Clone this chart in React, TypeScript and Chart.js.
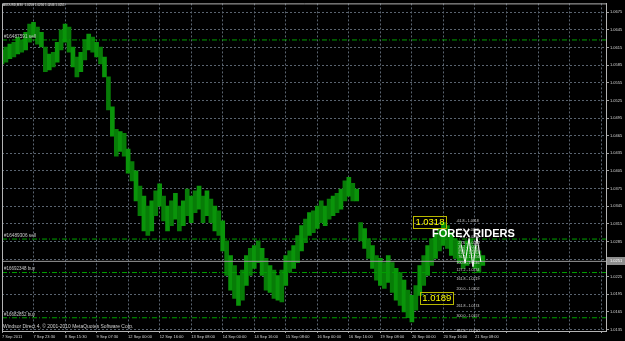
import React, { useEffect, useRef } from 'react';
import { Chart, registerables } from 'chart.js';
Chart.register(...registerables);

// ---- DATA ----
const BAR_STEP = 4; // each sample = 4 M30 bars
const HIGHS = [
  1.0611, 1.0616, 1.0621, 1.0624, 1.0633, 1.0628, 1.0641, 1.0655, 1.0658, 1.0650,
  1.0641, 1.0616, 1.0604, 1.0607, 1.0624, 1.0645, 1.0655, 1.0650, 1.0616, 1.0599,
  1.0607, 1.0628, 1.0638, 1.0633, 1.0624, 1.0616, 1.0599, 1.0565, 1.0514, 1.0476,
  1.0472, 1.0469, 1.0442, 1.0421, 1.0405, 1.0379, 1.0362, 1.0345, 1.0354, 1.0371,
  1.0383, 1.0362, 1.0345, 1.0354, 1.0367, 1.0345, 1.0354, 1.0374, 1.0362, 1.0371,
  1.0379, 1.0362, 1.0371, 1.0357, 1.0345, 1.0337, 1.0320, 1.0286, 1.0261, 1.0244,
  1.0227, 1.0236, 1.0261, 1.0273, 1.0278, 1.0286, 1.0273, 1.0256, 1.0244, 1.0236,
  1.0227, 1.0236, 1.0261, 1.0269, 1.0278, 1.0295, 1.0312, 1.0323, 1.0334, 1.0337,
  1.0345, 1.0354, 1.0345, 1.0357, 1.0362, 1.0367, 1.0374, 1.0388, 1.0394, 1.0384,
  1.0374, 1.0317, 1.0307, 1.0290, 1.0278, 1.0261, 1.0256, 1.0249, 1.0261, 1.0249,
  1.0239, 1.0232, 1.0219, 1.0202, 1.0193, 1.0210, 1.0244, 1.0261, 1.0278, 1.0290,
  1.0300, 1.0307, 1.0317, 1.0312, 1.0300, 1.0290, 1.0286, 1.0278, 1.0286, 1.0290,
  1.0278, 1.0269, 1.0261,
];
const LOWS = [
  1.0587, 1.0590, 1.0596, 1.0599, 1.0604, 1.0607, 1.0611, 1.0624, 1.0633, 1.0621,
  1.0616, 1.0574, 1.0577, 1.0582, 1.0590, 1.0611, 1.0624, 1.0607, 1.0582, 1.0565,
  1.0574, 1.0594, 1.0611, 1.0607, 1.0599, 1.0587, 1.0565, 1.0509, 1.0464, 1.0430,
  1.0438, 1.0430, 1.0401, 1.0388, 1.0354, 1.0329, 1.0303, 1.0295, 1.0303, 1.0329,
  1.0345, 1.0320, 1.0303, 1.0312, 1.0323, 1.0303, 1.0312, 1.0329, 1.0317, 1.0334,
  1.0340, 1.0317, 1.0329, 1.0317, 1.0303, 1.0295, 1.0269, 1.0227, 1.0202, 1.0188,
  1.0176, 1.0185, 1.0210, 1.0227, 1.0239, 1.0249, 1.0227, 1.0202, 1.0198, 1.0188,
  1.0185, 1.0182, 1.0210, 1.0232, 1.0239, 1.0249, 1.0269, 1.0283, 1.0295, 1.0300,
  1.0307, 1.0317, 1.0312, 1.0323, 1.0329, 1.0334, 1.0340, 1.0354, 1.0362, 1.0354,
  1.0354, 1.0286, 1.0273, 1.0256, 1.0239, 1.0219, 1.0210, 1.0205, 1.0215, 1.0198,
  1.0185, 1.0176, 1.0165, 1.0155, 1.0148, 1.0168, 1.0193, 1.0210, 1.0227, 1.0244,
  1.0256, 1.0269, 1.0278, 1.0273, 1.0261, 1.0256, 1.0249, 1.0239, 1.0244, 1.0249,
  1.0239, 1.0232, 1.0244,
];
const X_TICK_BARS = [0, 32, 64, 96, 128, 160, 192, 224, 256, 288, 320, 352, 384, 416, 448, 480, 512, 544, 576, 608];
const X_TICK_LABELS = [
  '7 Sep 2011', '7 Sep 23:30', '8 Sep 15:30', '9 Sep 07:30', '12 Sep 00:00', '12 Sep 16:00',
  '13 Sep 08:00', '14 Sep 00:00', '14 Sep 16:00', '15 Sep 08:00', '16 Sep 00:00', '16 Sep 16:00',
  '19 Sep 08:00', '20 Sep 00:00', '20 Sep 16:00', '21 Sep 08:00', '', '', '', '',
];
const Y_TICKS = [
  1.0135, 1.0165, 1.0195, 1.0225, 1.0255, 1.0285, 1.0315, 1.0345, 1.0375, 1.0405,
  1.0435, 1.0465, 1.0495, 1.0525, 1.0555, 1.0585, 1.0615, 1.0645, 1.0675,
];
const Y_HIDDEN_TICK = 1.0255;
const ORDER_PRICES = [1.0628, 1.0289, 1.0232, 1.0155];
const ORDER_LABELS = ['#16487591 sell', '#16489306 sell', '#16692348 buy', '#16682852 buy'];
const CURRENT_PRICE = 1.0251;
const HEADER = 'AUDUSD,M30  1.0256 1.0256 1.0246 1.0251';
const COPYRIGHT = 'Windsor Direct 4, \u00A9 2001-2010 MetaQuotes Software Corp.';
const SWING_PRICES = [1.0318, 1.0189];
const SWING_BARS = [417, 424];
const FIB_LEVELS = ['-61.8', '-27.2', '0.0', '23.6', '38.2', '50.0', '61.8', '76.4', '100.0', '127.2', '161.8', '200.0', '261.8', '300.0', '361.8'];
const FIB_PRICES = [1.0318, 1.0302, 1.0290, 1.0280, 1.0273, 1.0268, 1.0263, 1.0256, 1.0246, 1.0234, 1.0219, 1.0202, 1.0174, 1.0157, 1.0130];
const FIB_BAR = 463;
const FAN_BARS = [466, 470, 474, 478, 482, 486];
const FAN_PRICES = [1.0280, 1.0248, 1.0290, 1.0242, 1.0293, 1.0250];
const BRAND = 'FOREX RIDERS';

const X_MIN = 0;
const X_MAX = 613;
const Y_MIN = 1.013246;
const Y_MAX = 1.069021;

function fitFont(ctx: CanvasRenderingContext2D, text: string, width: number, family: string, weight = '') {
  ctx.font = `${weight} 20px ${family}`;
  const w = ctx.measureText(text).width || 1;
  const size = (20 * width) / w;
  ctx.font = `${weight} ${size}px ${family}`;
}

const overlay = {
  id: 'overlay',
  afterDatasetsDraw(chart: any) {
    const { ctx, chartArea: a, scales } = chart;
    const x = scales.x;
    const y = scales.y;
    ctx.save();
    ctx.strokeStyle = '#b4b4b4';
    ctx.lineWidth = 1;
    ctx.beginPath();
    ctx.moveTo(a.left + 0.5, a.bottom);
    ctx.lineTo(a.left + 0.5, a.top + 0.5);
    ctx.lineTo(a.right, a.top + 0.5);
    ctx.stroke();

    ctx.textBaseline = 'middle';
    ctx.textAlign = 'left';
    ctx.fillStyle = '#e6e6e6';
    fitFont(ctx, HEADER, 62, 'Liberation Sans');
    ctx.fillText(HEADER, 3, 5);
    fitFont(ctx, COPYRIGHT, 131, 'Liberation Sans');
    ctx.fillStyle = '#d0d0d0';
    ctx.fillText(COPYRIGHT, 3, 327);

    ctx.fillStyle = '#c8c8c8';
    ORDER_LABELS.forEach((t, i) => {
      fitFont(ctx, t, t.endsWith('sell') ? 32 : 31, 'Liberation Sans');
      ctx.fillText(t, 4, y.getPixelForValue(ORDER_PRICES[i]) - 3.5);
    });

    ctx.fillStyle = '#d4d4d4';
    FIB_LEVELS.forEach((lv, i) => {
      const t = `${lv} - ${FIB_PRICES[i].toFixed(4)}`;
      ctx.font = '3.6px Liberation Sans';
      ctx.fillText(t, x.getPixelForValue(FIB_BAR) - (lv.length - 4) * 1.8, y.getPixelForValue(FIB_PRICES[i]) - 1);
    });

    SWING_PRICES.forEach((p, i) => {
      const t = p.toFixed(4);
      const px = x.getPixelForValue(SWING_BARS[i]);
      const py = y.getPixelForValue(p);
      ctx.font = '9.5px Liberation Sans';
      const w = ctx.measureText(t).width;
      ctx.strokeStyle = '#b8b800';
      ctx.lineWidth = 1;
      ctx.strokeRect(Math.round(px) + 0.5, Math.round(py - 6) + 0.5, Math.round(w + 4), 12);
      ctx.fillStyle = '#ffff00';
      ctx.fillText(t, px + 2.5, py + 0.5);
    });

    ctx.fillStyle = '#ffffff';
    fitFont(ctx, BRAND, 83, 'Liberation Sans', 'bold');
    ctx.fillText(BRAND, 432, 234);

    const cy = y.getPixelForValue(CURRENT_PRICE);
    ctx.fillStyle = '#8e8e8e';
    ctx.fillRect(a.right + 1, Math.round(cy) - 4, 18, 8);
    ctx.fillStyle = '#ffffff';
    ctx.font = '4px Liberation Sans';
    ctx.fillText(CURRENT_PRICE.toFixed(4), a.right + 4, cy);
    ctx.restore();
  },
};

export default function App() {
  const ref = useRef<HTMLCanvasElement>(null);
  useEffect(() => {
    const canvas = ref.current;
    if (!canvas) return;
    const bars = HIGHS.map((h, i) => ({ x: i * BAR_STEP, y: [LOWS[i], h] }));
    const orderSets = ORDER_PRICES.map((p) => ({
      type: 'line' as const,
      data: [{ x: X_MIN, y: p }, { x: X_MAX, y: p }],
      borderColor: '#00a000',
      borderWidth: 1,
      borderDash: [5, 2, 1, 2],
      pointRadius: 0,
      order: 1,
    }));
    const chart = new Chart(canvas, {
      type: 'bar',
      data: {
        datasets: [
          {
            type: 'bar',
            data: bars as any,
            backgroundColor: (c: any) => (c.dataIndex % 2 === 0 ? '#0a940a' : '#077c07'),
            borderWidth: 0,
            barThickness: 4,
            order: 3,
          } as any,
          ...orderSets,
          {
            type: 'line',
            data: [{ x: X_MIN, y: CURRENT_PRICE }, { x: X_MAX, y: CURRENT_PRICE }],
            borderColor: '#9a9a9a',
            borderWidth: 1,
            pointRadius: 0,
            order: 2,
          },
          {
            type: 'line',
            data: FAN_BARS.map((b, i) => ({ x: b, y: FAN_PRICES[i] })),
            borderColor: '#ffffff',
            borderWidth: 1,
            pointRadius: 0,
            order: 0,
          },
        ] as any,
      },
      options: {
        animation: false,
        responsive: false,
        devicePixelRatio: 1,
        layout: { padding: { top: 1, left: 2, right: 0, bottom: 0 } },
        plugins: { legend: { display: false }, tooltip: { enabled: false } },
        scales: {
          x: {
            type: 'linear',
            min: X_MIN,
            max: X_MAX,
            offset: false,
            afterBuildTicks: (s: any) => {
              s.ticks = X_TICK_BARS.map((v) => ({ value: v }));
            },
            afterFit: (s: any) => {
              s.height = 10;
            },
            ticks: {
              autoSkip: false,
              maxRotation: 0,
              minRotation: 0,
              align: 'start',
              padding: 1,
              color: '#d8d8d8',
              font: { family: 'Liberation Sans', size: 4 },
              callback: (v: any) => {
                const i = X_TICK_BARS.indexOf(Number(v));
                return i >= 0 ? X_TICK_LABELS[i] : '';
              },
            },
            grid: {
              offset: false,
              color: '#5a6470',
              tickColor: '#a0a0a0',
              tickLength: 2,
              tickBorderDash: [],
            },
            border: { display: true, color: '#b4b4b4', dash: [2, 2] },
          },
          y: {
            type: 'linear',
            position: 'right',
            min: Y_MIN,
            max: Y_MAX,
            afterBuildTicks: (s: any) => {
              s.ticks = Y_TICKS.map((v) => ({ value: v }));
            },
            afterFit: (s: any) => {
              s.width = 19;
            },
            ticks: {
              padding: 1,
              color: '#d8d8d8',
              font: { family: 'Liberation Sans', size: 4 },
              callback: (v: any) => (Math.abs(Number(v) - Y_HIDDEN_TICK) < 1e-6 ? '' : Number(v).toFixed(4)),
            },
            grid: {
              color: '#5a6470',
              tickColor: '#a0a0a0',
              tickLength: 3,
              tickBorderDash: [],
            },
            border: { display: true, color: '#b4b4b4', dash: [2, 2] },
          },
        },
      },
      plugins: [overlay],
    } as any);
    return () => chart.destroy();
  }, []);
  return (
    <div style={{ position: 'fixed', left: 0, top: 0, width: 625, height: 341, background: '#000' }}>
      <canvas ref={ref} width={625} height={341} style={{ display: 'block' }} />
    </div>
  );
}
